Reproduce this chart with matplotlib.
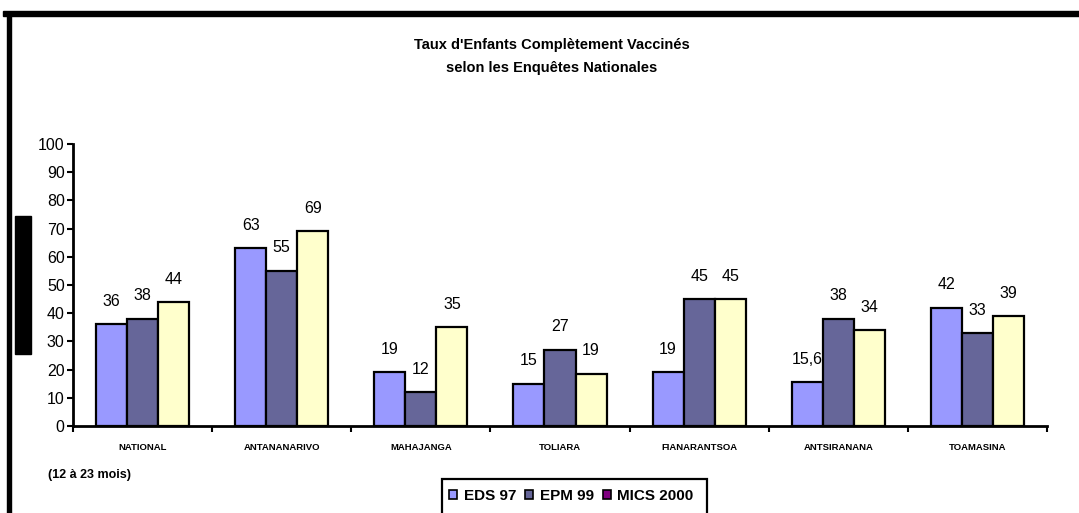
import matplotlib
matplotlib.use("Agg")
import matplotlib.pyplot as plt
import numpy as np
from matplotlib.patches import Rectangle, Patch

plt.rcParams['font.family'] = ['Liberation Sans', 'DejaVu Sans']

categories = ["NATIONAL", "ANTANANARIVO", "MAHAJANGA", "TOLIARA",
              "FIANARANTSOA", "ANTSIRANANA", "TOAMASINA"]
eds97 = [36, 63, 19, 15, 19, 15.6, 42]
epm99 = [38, 55, 12, 27, 45, 38, 33]
mics2000 = [44, 69, 35, 18.5, 45, 34, 39]
labels_eds = ["36", "63", "19", "15", "19", "15,6", "42"]
labels_epm = ["38", "55", "12", "27", "45", "38", "33"]
labels_mics = ["44", "69", "35", "19", "45", "34", "39"]
series_names = ["EDS 97", "EPM 99", "MICS 2000"]
bar_colors = ["#9999FF", "#666699", "#FFFFCC"]
legend_colors = ["#9999FF", "#666699", "#800080"]
yticks = list(range(0, 101, 10))

W, H = 1079, 513
fig = plt.figure(figsize=(W / 100, H / 100), dpi=100)
fig.patch.set_facecolor("white")

ax = fig.add_axes([73 / W, (H - 426) / H, (1047 - 73) / W, (426 - 144) / H])
x = np.arange(len(categories))
bw = 31 / 139
for i, (vals, labs) in enumerate(zip([eds97, epm99, mics2000],
                                     [labels_eds, labels_epm, labels_mics])):
    pos = x + (i - 1) * bw
    ax.bar(pos, vals, width=bw, color=bar_colors[i], edgecolor="black",
           linewidth=1.6, zorder=3)
    for px, v, t in zip(pos, vals, labs):
        ax.annotate(t, (px, v), xytext=(0, 16.5), textcoords="offset points",
                    ha="center", va="center", fontsize=11.5)

ax.set_xlim(-0.5, len(categories) - 0.5)
ax.set_ylim(0, 100)
ax.set_yticks(yticks)
ax.set_yticklabels([str(t) for t in yticks], fontsize=11.5)
ax.tick_params(axis="y", direction="out", length=4, width=1.5, pad=2)
ax.set_xticks(np.arange(-0.5, len(categories) + 0.5, 1.0))
ax.set_xticklabels([])
ax.tick_params(axis="x", which="major", direction="out", length=4, width=1.5)
ax.set_xticks(x, minor=True)
ax.set_xticklabels(categories, minor=True, fontsize=6.8, fontweight="bold")
ax.tick_params(axis="x", which="minor", length=0, pad=12)
for s in ["top", "right"]:
    ax.spines[s].set_visible(False)
for s in ["left", "bottom"]:
    ax.spines[s].set_linewidth(2)

fig.text(552 / W, 1 - 45 / H, "Taux d'Enfants Complètement Vaccinés",
         ha="center", va="center", fontsize=10.5, fontweight="bold")
fig.text(552 / W, 1 - 68 / H, "selon les Enquêtes Nationales",
         ha="center", va="center", fontsize=10.5, fontweight="bold")
fig.text(48 / W, 1 - 475 / H, "(12 à 23 mois)", ha="left", va="center",
         fontsize=9, fontweight="bold")

# frame decorations
fig.add_artist(Rectangle((3 / W, 1 - 16 / H), (W - 3) / W, 5 / H,
                         transform=fig.transFigure, color="black"))
fig.add_artist(Rectangle((7 / W, 0), 4 / W, (H - 12) / H,
                         transform=fig.transFigure, color="black"))
fig.add_artist(Rectangle((15 / W, 1 - 354 / H), 16 / W, (354 - 216) / H,
                         transform=fig.transFigure, color="black"))

# legend box
fig.add_artist(Rectangle((442 / W, -0.02), (707 - 442) / W, (H - 479) / H + 0.02,
                         transform=fig.transFigure, facecolor="white",
                         edgecolor="black", linewidth=1.6))
handles = [Patch(facecolor=c, edgecolor="black", linewidth=1.2) for c in legend_colors]
leg = fig.legend(handles, series_names, loc="center left",
                 bbox_to_anchor=(449 / W, 1 - 496 / H), frameon=False, ncol=3,
                 prop={"size": 11, "weight": "bold"}, handlelength=0.55,
                 handleheight=0.55, handletextpad=0.4, columnspacing=0.6,
                 borderpad=0, borderaxespad=0)

fig.savefig("out.png", dpi=100)
